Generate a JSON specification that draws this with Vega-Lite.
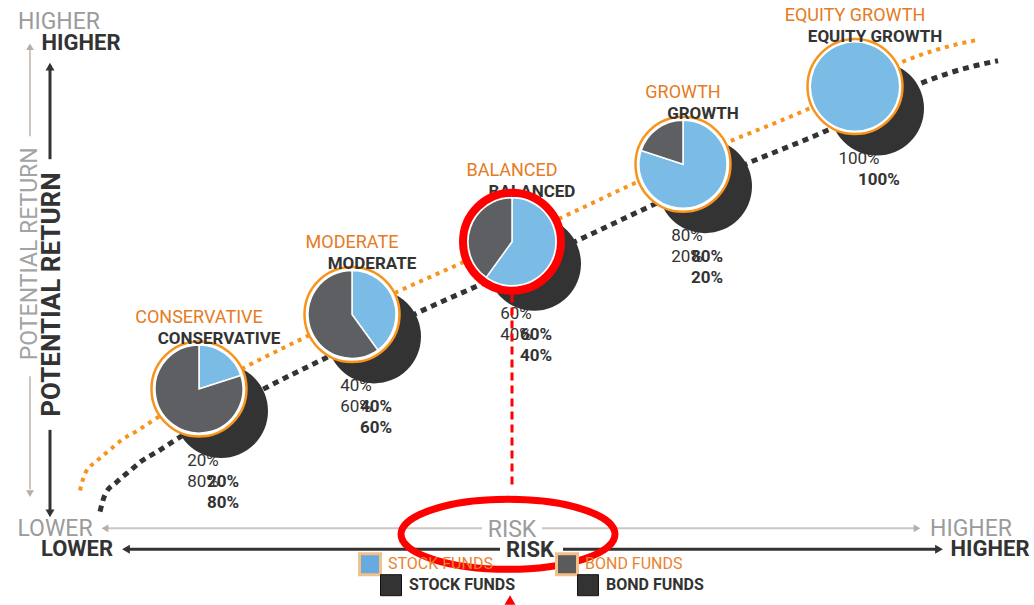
{
  "$schema": "https://vega.github.io/schema/vega-lite/v6.json",
  "width": 1034,
  "height": 605,
  "autosize": {"type": "fit", "contains": "padding"},
  "padding": 0,
  "background": "white",
  "config": {"view": {"stroke": null}, "font": "Roboto"},
  "datasets": {
    "curve": [
      {"risk": 8.0, "ret": 11.2}, {"risk": 8.5, "ret": 12.9}, {"risk": 9.7, "ret": 14.2},
      {"risk": 11.0, "ret": 15.3}, {"risk": 12.2, "ret": 16.3}, {"risk": 13.7, "ret": 17.2},
      {"risk": 15.7, "ret": 18.5}, {"risk": 24.7, "ret": 23.7}, {"risk": 30.7, "ret": 26.7},
      {"risk": 39.8, "ret": 31.2}, {"risk": 46.0, "ret": 34.0}, {"risk": 56.5, "ret": 38.8},
      {"risk": 63.7, "ret": 42.2}, {"risk": 73.0, "ret": 46.3}, {"risk": 80.7, "ret": 49.5},
      {"risk": 90.0, "ret": 54.2}, {"risk": 93.0, "ret": 55.3}, {"risk": 95.5, "ret": 56.0},
      {"risk": 97.8, "ret": 56.5}
    ],
    "funds": [
      {"fund": "CONSERVATIVE", "risk": 19.9, "ret": 21.4, "stockLabel": "20%", "bondLabel": "80%"},
      {"fund": "MODERATE", "risk": 35.2, "ret": 28.9, "stockLabel": "40%", "bondLabel": "60%"},
      {"fund": "BALANCED", "risk": 51.2, "ret": 36.2, "stockLabel": "60%", "bondLabel": "40%"},
      {"fund": "GROWTH", "risk": 68.3, "ret": 44.0, "stockLabel": "80%", "bondLabel": "20%"},
      {"fund": "EQUITY GROWTH", "risk": 85.5, "ret": 51.8, "stockLabel": "100%", "bondLabel": ""}
    ],
    "slices": [
      {"fund": "CONSERVATIVE", "risk": 19.9, "ret": 21.4, "part": "Stock", "start": 0, "end": 20},
      {"fund": "CONSERVATIVE", "risk": 19.9, "ret": 21.4, "part": "Bond", "start": 20, "end": 100},
      {"fund": "MODERATE", "risk": 35.2, "ret": 28.9, "part": "Stock", "start": 0, "end": 40},
      {"fund": "MODERATE", "risk": 35.2, "ret": 28.9, "part": "Bond", "start": 40, "end": 100},
      {"fund": "BALANCED", "risk": 51.2, "ret": 36.2, "part": "Stock", "start": 0, "end": 60},
      {"fund": "BALANCED", "risk": 51.2, "ret": 36.2, "part": "Bond", "start": 60, "end": 100},
      {"fund": "GROWTH", "risk": 68.3, "ret": 44.0, "part": "Stock", "start": 0, "end": 80},
      {"fund": "GROWTH", "risk": 68.3, "ret": 44.0, "part": "Bond", "start": 80, "end": 100},
      {"fund": "EQUITY GROWTH", "risk": 85.5, "ret": 51.8, "part": "Stock", "start": 0, "end": 100}
    ],
    "axisLines": [
      {"tone": "light", "risk": 3.0, "ret": 55.5, "risk2": 3.0, "ret2": 46.8},
      {"tone": "light", "risk": 3.0, "ret": 22.7, "risk2": 3.0, "ret2": 11.3},
      {"tone": "light", "risk": 10.6, "ret": 7.4, "risk2": 48.2, "ret2": 7.4},
      {"tone": "light", "risk": 54.2, "ret": 7.4, "risk2": 91.6, "ret2": 7.4},
      {"tone": "dark", "risk": 5.0, "ret": 53.9, "risk2": 5.0, "ret2": 44.5},
      {"tone": "dark", "risk": 5.0, "ret": 17.3, "risk2": 5.0, "ret2": 9.1},
      {"tone": "dark", "risk": 12.6, "ret": 5.3, "risk2": 50.0, "ret2": 5.3},
      {"tone": "dark", "risk": 56.3, "ret": 5.3, "risk2": 93.8, "ret2": 5.3}
    ],
    "arrows": [
      {"tone": "light", "dir": "up", "risk": 3.0, "ret": 55.8},
      {"tone": "light", "dir": "down", "risk": 3.0, "ret": 10.9},
      {"tone": "light", "dir": "left", "risk": 10.5, "ret": 7.4},
      {"tone": "light", "dir": "right", "risk": 91.7, "ret": 7.4},
      {"tone": "dark", "dir": "up", "risk": 5.0, "ret": 53.8},
      {"tone": "dark", "dir": "down", "risk": 5.0, "ret": 8.9},
      {"tone": "dark", "dir": "left", "risk": 12.6, "ret": 5.3},
      {"tone": "dark", "dir": "right", "risk": 93.9, "ret": 5.3}
    ],
    "axisText": [
      {"tone": "light", "label": "HIGHER", "risk": 5.9, "ret": 58.3},
      {"tone": "light", "label": "LOWER", "risk": 5.5, "ret": 7.3},
      {"tone": "light", "label": "RISK", "risk": 51.2, "ret": 7.2},
      {"tone": "light", "label": "HIGHER", "risk": 97.1, "ret": 7.3},
      {"tone": "dark", "label": "HIGHER", "risk": 8.1, "ret": 56.2},
      {"tone": "dark", "label": "LOWER", "risk": 7.7, "ret": 5.3},
      {"tone": "dark", "label": "RISK", "risk": 53.0, "ret": 5.2},
      {"tone": "dark", "label": "HIGHER", "risk": 99.0, "ret": 5.3}
    ],
    "axisTitle": [
      {"tone": "light", "label": "POTENTIAL RETURN", "risk": 3.0, "ret": 35.0},
      {"tone": "dark", "label": "POTENTIAL RETURN", "risk": 5.2, "ret": 30.9}
    ],
    "marker": [
      {"risk": 51.2, "ret": 30.9, "risk2": 51.2, "ret2": 11.3}
    ],
    "riskMark": [{"risk": 50.8, "ret": 6.8}],
    "pointer": [{"risk": 51.0, "ret": 0.2}],
    "legend": [
      {"part": "Stock", "label": "STOCK FUNDS", "risk": 37.0, "ret": 3.8},
      {"part": "Bond", "label": "BOND FUNDS", "risk": 56.7, "ret": 3.8}
    ]
  },
  "encoding": {
    "x": {"field": "risk", "type": "quantitative", "scale": {"domain": [0, 103.4], "nice": false, "zero": false}, "axis": null},
    "y": {"field": "ret", "type": "quantitative", "scale": {"domain": [0, 60.5], "nice": false, "zero": false}, "axis": null}
  },
  "layer": [
    {
      "data": {"name": "curve"},
      "mark": {"type": "line", "color": "#f7941d", "strokeWidth": 4, "strokeDash": [4, 5], "interpolate": "monotone"},
      "encoding": {}
    },
    {
      "data": {"name": "curve"},
      "mark": {"type": "line", "color": "#333333", "strokeWidth": 5, "strokeDash": [6, 5], "interpolate": "monotone", "xOffset": 20, "yOffset": 21},
      "encoding": {}
    },
    {
      "data": {"name": "funds"},
      "mark": {"type": "point", "shape": "circle", "size": 8836, "filled": true, "color": "#333333", "opacity": 1, "xOffset": 22, "yOffset": 22}
    },
    {
      "data": {"name": "funds"},
      "mark": {"type": "point", "shape": "circle", "size": 9025, "fill": "white", "stroke": "#f7941d", "strokeWidth": 2.5, "opacity": 1, "fillOpacity": 1}
    },
    {
      "data": {"name": "slices"},
      "transform": [{"filter": "datum.end - datum.start < 100"}],
      "mark": {"type": "arc", "radius": 44, "stroke": "white", "strokeWidth": 1.5},
      "encoding": {
        "theta": {"field": "start", "type": "quantitative", "stack": null, "scale": {"domain": [0, 100], "range": [0, 6.283185]}},
        "theta2": {"field": "end"},
        "color": {"field": "part", "type": "nominal", "scale": {"domain": ["Stock", "Bond"], "range": ["#7bbce7", "#5e5f63"]}, "legend": null}
      }
    },
    {
      "data": {"name": "slices"},
      "transform": [{"filter": "datum.end - datum.start >= 100"}],
      "mark": {"type": "arc", "radius": 44, "strokeWidth": 0},
      "encoding": {
        "theta": {"field": "start", "type": "quantitative", "stack": null, "scale": {"domain": [0, 100], "range": [0, 6.283185]}},
        "theta2": {"field": "end"},
        "color": {"field": "part", "type": "nominal", "scale": {"domain": ["Stock", "Bond"], "range": ["#7bbce7", "#5e5f63"]}, "legend": null}
      }
    },
    {
      "data": {"name": "axisLines"},
      "transform": [{"filter": "datum.tone === 'light'"}],
      "mark": {"type": "rule", "color": "#cdc6c0", "strokeWidth": 2},
      "encoding": {"x2": {"field": "risk2"}, "y2": {"field": "ret2"}}
    },
    {
      "data": {"name": "axisLines"},
      "transform": [{"filter": "datum.tone === 'dark'"}],
      "mark": {"type": "rule", "color": "#333333", "strokeWidth": 3},
      "encoding": {"x2": {"field": "risk2"}, "y2": {"field": "ret2"}}
    },
    {
      "data": {"name": "arrows"},
      "transform": [{"filter": "datum.tone === 'light'"}],
      "mark": {"type": "point", "filled": true, "opacity": 1, "size": 60, "color": "#b8aea6"},
      "encoding": {
        "shape": {"field": "dir", "type": "nominal", "scale": {"domain": ["up", "down", "left", "right"], "range": ["triangle-up", "triangle-down", "triangle-left", "triangle-right"]}, "legend": null}
      }
    },
    {
      "data": {"name": "arrows"},
      "transform": [{"filter": "datum.tone === 'dark'"}],
      "mark": {"type": "point", "filled": true, "opacity": 1, "size": 80, "color": "#333333"},
      "encoding": {
        "shape": {"field": "dir", "type": "nominal", "scale": {"domain": ["up", "down", "left", "right"], "range": ["triangle-up", "triangle-down", "triangle-left", "triangle-right"]}, "legend": null}
      }
    },
    {
      "data": {"name": "axisText"},
      "transform": [{"filter": "datum.tone === 'light'"}],
      "mark": {"type": "text", "fontSize": 23, "color": "#9b9b9b", "font": "Roboto"},
      "encoding": {"text": {"field": "label"}}
    },
    {
      "data": {"name": "axisText"},
      "transform": [{"filter": "datum.tone === 'dark'"}],
      "mark": {"type": "text", "fontSize": 22, "fontWeight": "bold", "color": "#333333", "font": "Roboto"},
      "encoding": {"text": {"field": "label"}}
    },
    {
      "data": {"name": "axisTitle"},
      "transform": [{"filter": "datum.tone === 'light'"}],
      "mark": {"type": "text", "fontSize": 23, "angle": 270, "color": "#a3a3a3", "font": "Roboto"},
      "encoding": {"text": {"field": "label"}}
    },
    {
      "data": {"name": "axisTitle"},
      "transform": [{"filter": "datum.tone === 'dark'"}],
      "mark": {"type": "text", "fontSize": 26, "fontWeight": "bold", "angle": 270, "color": "#333333", "font": "Roboto"},
      "encoding": {"text": {"field": "label"}}
    },
    {
      "data": {"name": "funds"},
      "mark": {"type": "text", "fontSize": 18, "color": "#e57b24", "font": "Roboto", "yOffset": -71},
      "encoding": {"text": {"field": "fund"}}
    },
    {
      "data": {"name": "funds"},
      "mark": {"type": "text", "fontSize": 17, "fontWeight": "bold", "color": "#333333", "font": "Roboto", "xOffset": 20, "yOffset": -50},
      "encoding": {"text": {"field": "fund"}}
    },
    {
      "data": {"name": "funds"},
      "mark": {"type": "text", "fontSize": 17, "color": "#333333", "font": "Roboto", "xOffset": 4, "yOffset": 72},
      "encoding": {"text": {"field": "stockLabel"}}
    },
    {
      "data": {"name": "funds"},
      "mark": {"type": "text", "fontSize": 17, "color": "#333333", "font": "Roboto", "xOffset": 4, "yOffset": 93},
      "encoding": {"text": {"field": "bondLabel"}}
    },
    {
      "data": {"name": "funds"},
      "mark": {"type": "text", "fontSize": 17, "fontWeight": "bold", "color": "#333333", "font": "Roboto", "xOffset": 24, "yOffset": 93},
      "encoding": {"text": {"field": "stockLabel"}}
    },
    {
      "data": {"name": "funds"},
      "mark": {"type": "text", "fontSize": 17, "fontWeight": "bold", "color": "#333333", "font": "Roboto", "xOffset": 24, "yOffset": 114},
      "encoding": {"text": {"field": "bondLabel"}}
    },
    {
      "data": {"name": "funds"},
      "transform": [{"filter": "datum.fund === 'BALANCED'"}],
      "mark": {"type": "point", "shape": "circle", "size": 9604, "fill": null, "fillOpacity": 0, "stroke": "#ff0000", "strokeWidth": 8, "opacity": 1}
    },
    {
      "data": {"name": "marker"},
      "mark": {"type": "rule", "color": "#ff0000", "strokeWidth": 3, "strokeDash": [8, 5]},
      "encoding": {"x2": {"field": "risk2"}, "y2": {"field": "ret2"}}
    },
    {
      "data": {"name": "riskMark"},
      "mark": {"type": "point", "shape": "M -1 0 C -1 -0.1806 -0.5523 -0.327 0 -0.327 C 0.5523 -0.327 1 -0.1806 1 0 C 1 0.1806 0.5523 0.327 0 0.327 C -0.5523 0.327 -1 0.1806 -1 0 Z", "size": 45796, "fill": null, "fillOpacity": 0, "stroke": "#ff0000", "strokeWidth": 7, "opacity": 1}
    },
    {
      "data": {"name": "pointer"},
      "mark": {"type": "point", "shape": "triangle-up", "size": 120, "filled": true, "color": "#ff0000", "opacity": 1}
    },
    {
      "data": {"name": "legend"},
      "mark": {"type": "point", "shape": "square", "size": 441, "stroke": "#f3c08a", "strokeWidth": 3, "opacity": 1, "fillOpacity": 1},
      "encoding": {
        "fill": {"field": "part", "type": "nominal", "scale": {"domain": ["Stock", "Bond"], "range": ["#66aadf", "#5b5b5b"]}, "legend": null}
      }
    },
    {
      "data": {"name": "legend"},
      "mark": {"type": "point", "shape": "square", "size": 441, "filled": true, "color": "#333333", "stroke": "#111111", "strokeWidth": 1, "opacity": 1, "xOffset": 21, "yOffset": 21}
    },
    {
      "data": {"name": "legend"},
      "mark": {"type": "text", "align": "left", "fontSize": 16, "color": "#e8842f", "font": "Roboto", "xOffset": 18},
      "encoding": {"text": {"field": "label"}}
    },
    {
      "data": {"name": "legend"},
      "mark": {"type": "text", "align": "left", "fontSize": 16, "fontWeight": "bold", "color": "#333333", "font": "Roboto", "xOffset": 39, "yOffset": 21},
      "encoding": {"text": {"field": "label"}}
    }
  ]
}
